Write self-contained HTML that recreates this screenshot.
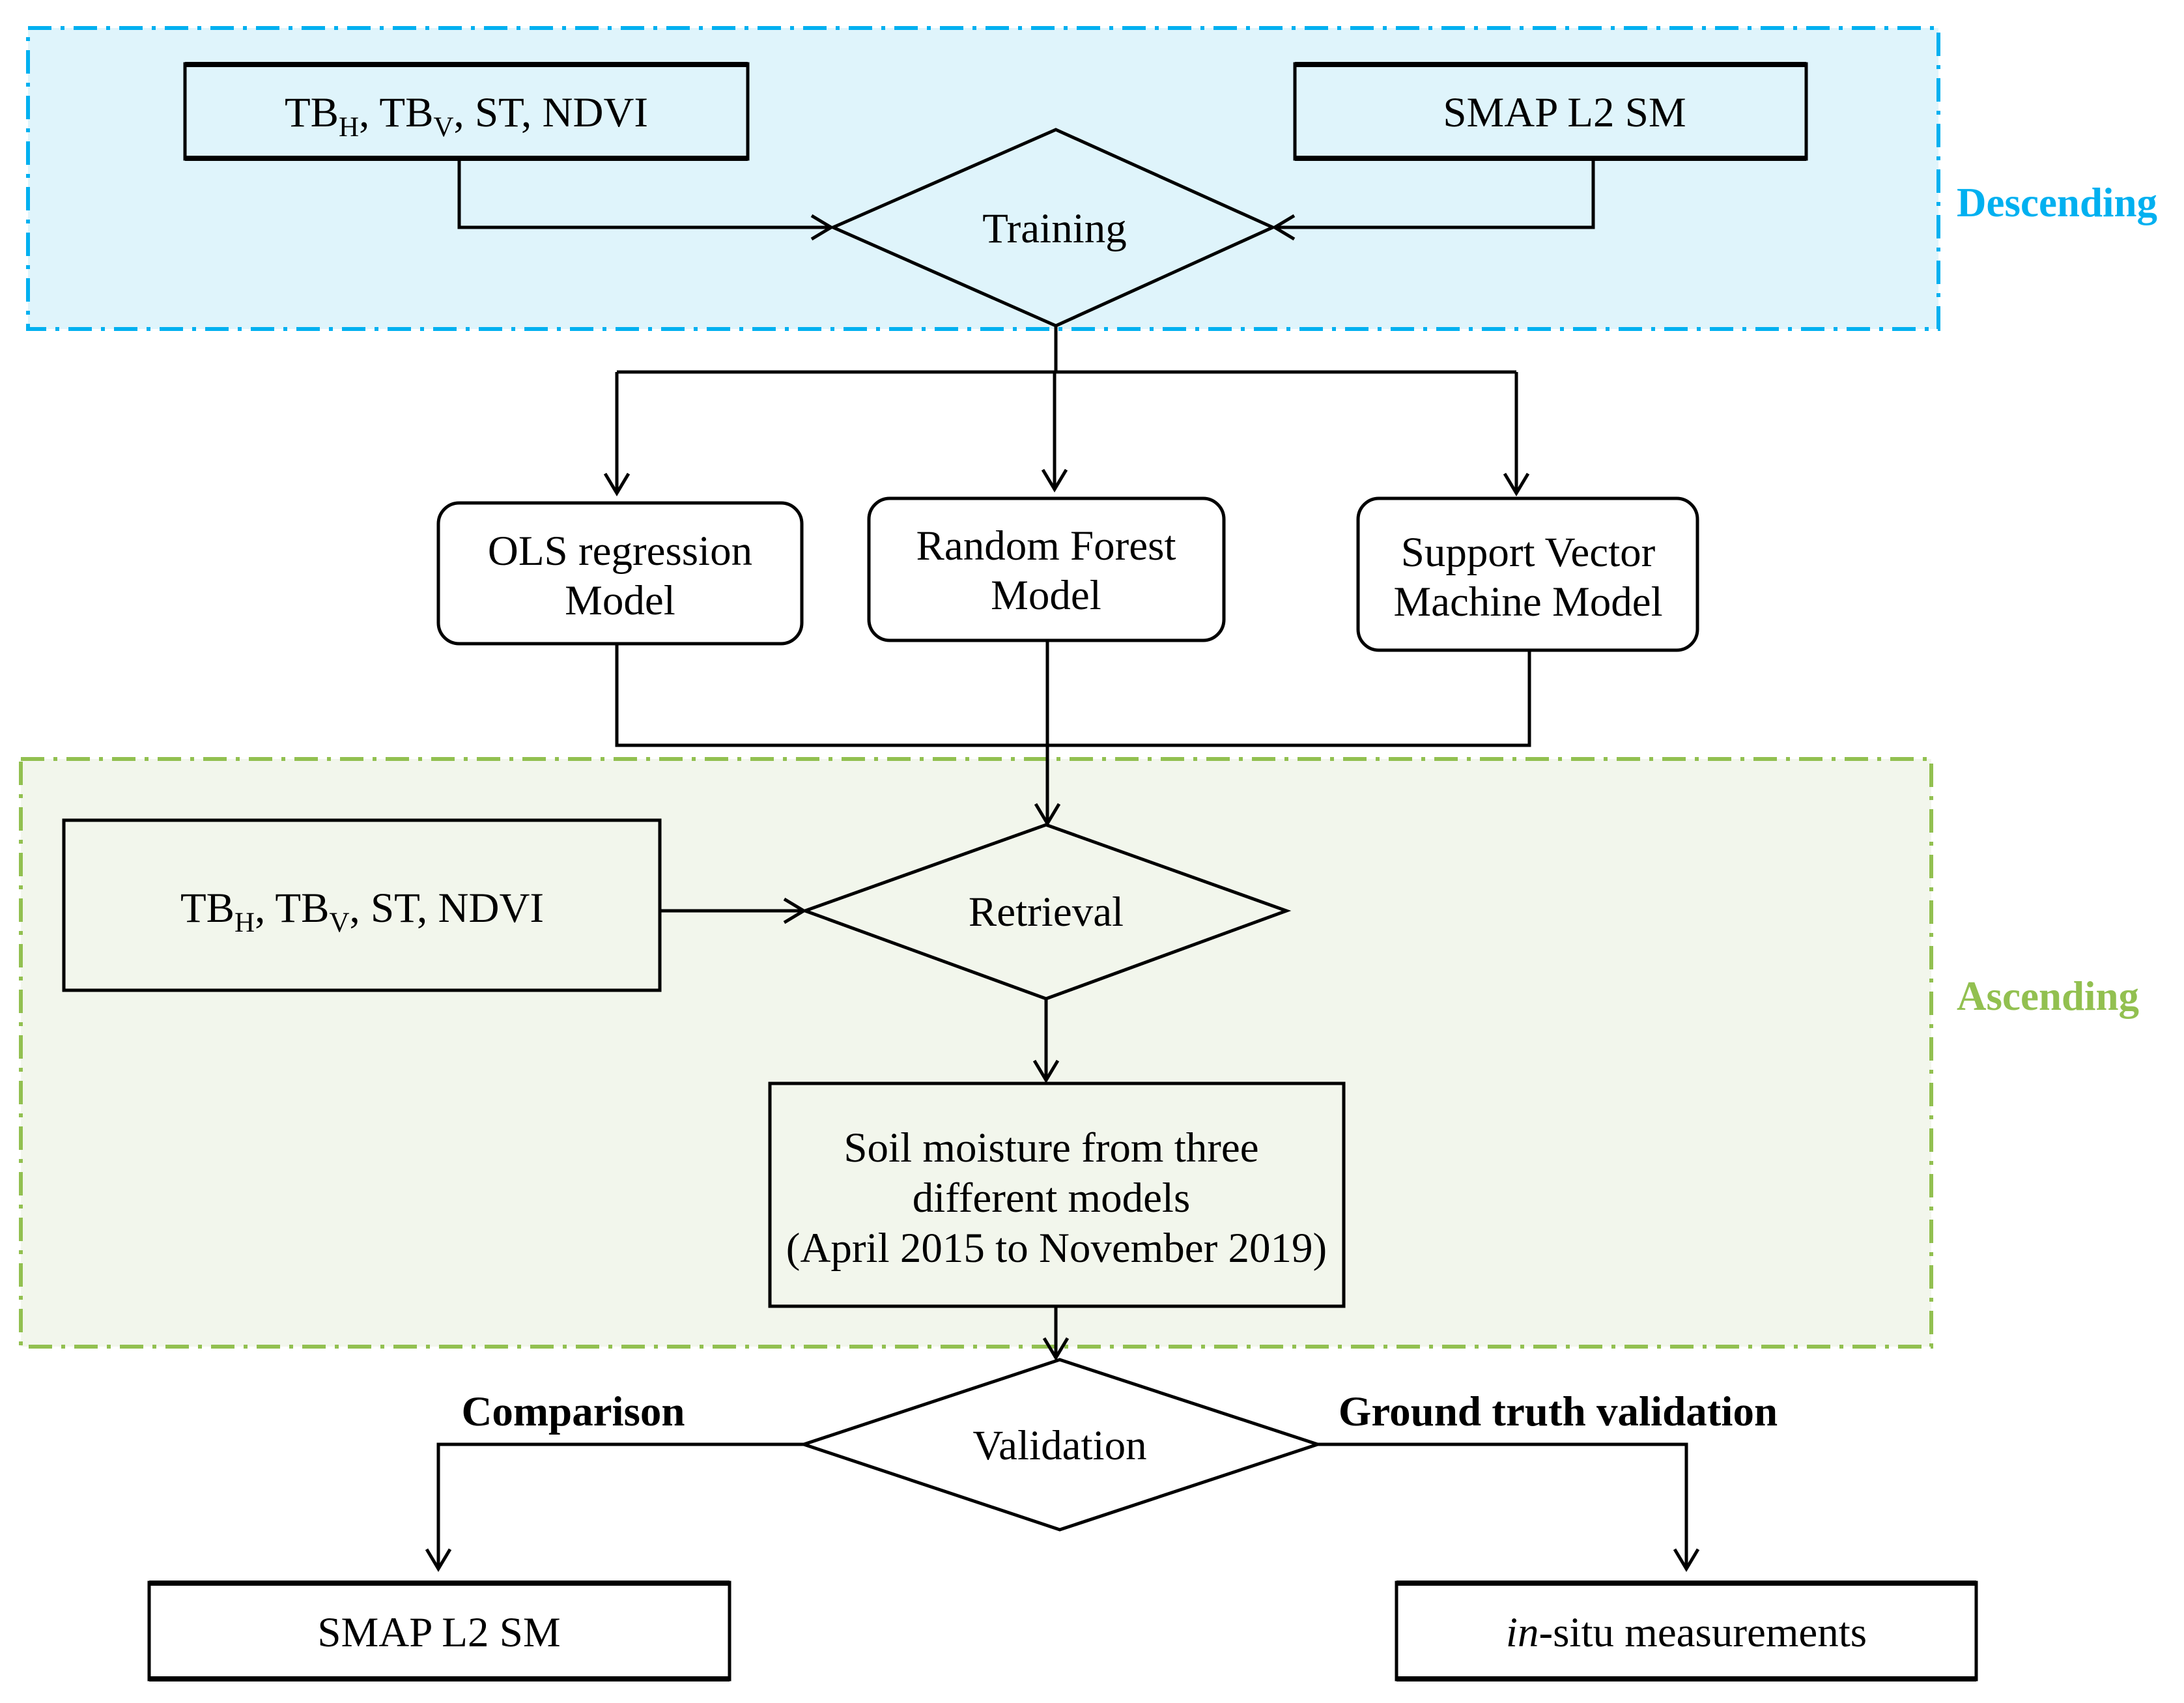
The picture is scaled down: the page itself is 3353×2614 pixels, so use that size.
<!DOCTYPE html>
<html><head><meta charset="utf-8"><style>
html,body{margin:0;padding:0;background:#fff;}
svg{display:block;}
text{font-family:"Liberation Serif",serif;fill:#000;}
</style></head><body>
<svg width="3353" height="2614" viewBox="0 0 3353 2614" xmlns="http://www.w3.org/2000/svg">
<rect x="43" y="43" width="2933" height="462" fill="#dff4fb" stroke="#00b0f0" stroke-width="6" stroke-dasharray="36,14,6,14"/>
<rect x="32" y="1165" width="2933" height="902" fill="#f2f6ec" stroke="#92c050" stroke-width="6" stroke-dasharray="36,14,6,14"/>
<text x="3004" y="332" font-size="63" font-weight="bold" style="fill:#00b0f0">Descending</text>
<text x="3004" y="1550" font-size="63" font-weight="bold" style="fill:#92c050">Ascending</text>

<g fill="none" stroke="#000" stroke-width="5">
<rect x="284" y="98" width="864" height="146"/>
<rect x="1988" y="98" width="785" height="146"/>
<polygon points="1621,199 1954,349 1621,500 1279,349"/>
<polyline points="705,244 705,349 1276,349"/>
<polyline points="1246,331 1276,349 1246,367"/>
<polyline points="2446,244 2446,349 1957,349"/>
<polyline points="1987,331 1957,349 1987,367"/>
<polyline points="1621,500 1621,571"/>
<polyline points="947,571 2328,571"/>
<line x1="947" y1="571" x2="947" y2="757"/>
<line x1="1619" y1="571" x2="1619" y2="751"/>
<line x1="2328" y1="571" x2="2328" y2="757"/>
<polyline points="929,727 947,757 965,727"/>
<polyline points="1601,721 1619,751 1637,721"/>
<polyline points="2310,727 2328,757 2346,727"/>
<rect x="673" y="772" width="558" height="216" rx="32"/>
<rect x="1334" y="765" width="545" height="218" rx="32"/>
<rect x="2085" y="765" width="521" height="233" rx="32"/>
<polyline points="947,988 947,1144 2348,1144 2348,998"/>
<line x1="1608" y1="983" x2="1608" y2="1264"/>
<polyline points="1590,1234 1608,1264 1626,1234"/>
<rect x="98" y="1259" width="915" height="261"/>
<polygon points="1606,1266 1975,1398 1606,1533 1236,1398"/>
<line x1="1013" y1="1398" x2="1234" y2="1398"/>
<polyline points="1204,1380 1234,1398 1204,1416"/>
<line x1="1606" y1="1533" x2="1606" y2="1658"/>
<polyline points="1588,1628 1606,1658 1624,1628"/>
<rect x="1182" y="1663" width="881" height="342"/>
<line x1="1621" y1="2005" x2="1621" y2="2084"/>
<polyline points="1603,2054 1621,2084 1639,2054"/>
<polygon points="1627,2087 2023,2217 1627,2348 1234,2217"/>
<polyline points="1234,2217 673,2217 673,2408"/>
<polyline points="655,2378 673,2408 691,2378"/>
<polyline points="2023,2217 2589,2217 2589,2408"/>
<polyline points="2571,2378 2589,2408 2607,2378"/>
<rect x="229" y="2429" width="891" height="149"/>
<rect x="2144" y="2429" width="890" height="149"/>
</g>
<g stroke="#000" stroke-width="8">
<line x1="284" y1="99" x2="1148" y2="99"/><line x1="284" y1="243" x2="1148" y2="243"/>
<line x1="1988" y1="99" x2="2773" y2="99"/><line x1="1988" y1="243" x2="2773" y2="243"/>
<line x1="229" y1="2430" x2="1120" y2="2430"/><line x1="229" y1="2577" x2="1120" y2="2577"/>
<line x1="2144" y1="2430" x2="3034" y2="2430"/><line x1="2144" y1="2577" x2="3034" y2="2577"/>
</g>

<g font-size="65" text-anchor="middle">
<text x="716" y="194">TB<tspan font-size="43" dy="15">H</tspan><tspan dy="-15">, TB</tspan><tspan font-size="43" dy="15">V</tspan><tspan dy="-15">, ST, NDVI</tspan></text>
<text x="2402" y="194">SMAP L2 SM</text>
<text x="1619" y="372">Training</text>
<text x="952" y="867">OLS regression</text>
<text x="952" y="943">Model</text>
<text x="1606" y="859">Random Forest</text>
<text x="1606" y="935">Model</text>
<text x="2346" y="869">Support Vector</text>
<text x="2346" y="945">Machine Model</text>
<text x="556" y="1415">TB<tspan font-size="43" dy="15">H</tspan><tspan dy="-15">, TB</tspan><tspan font-size="43" dy="15">V</tspan><tspan dy="-15">, ST, NDVI</tspan></text>
<text x="1606" y="1421">Retrieval</text>
<text x="1614" y="1783">Soil moisture from three</text>
<text x="1614" y="1860">different models</text>
<text x="1622" y="1937">(April 2015 to November 2019)</text>
<text x="1627" y="2240">Validation</text>
<text x="880" y="2188" font-weight="bold">Comparison</text>
<text x="2392" y="2188" font-weight="bold">Ground truth validation</text>
<text x="674" y="2527">SMAP  L2 SM</text>
<text x="2589" y="2527"><tspan font-style="italic">in</tspan>-situ measurements</text>
</g>
</svg>
</body></html>
